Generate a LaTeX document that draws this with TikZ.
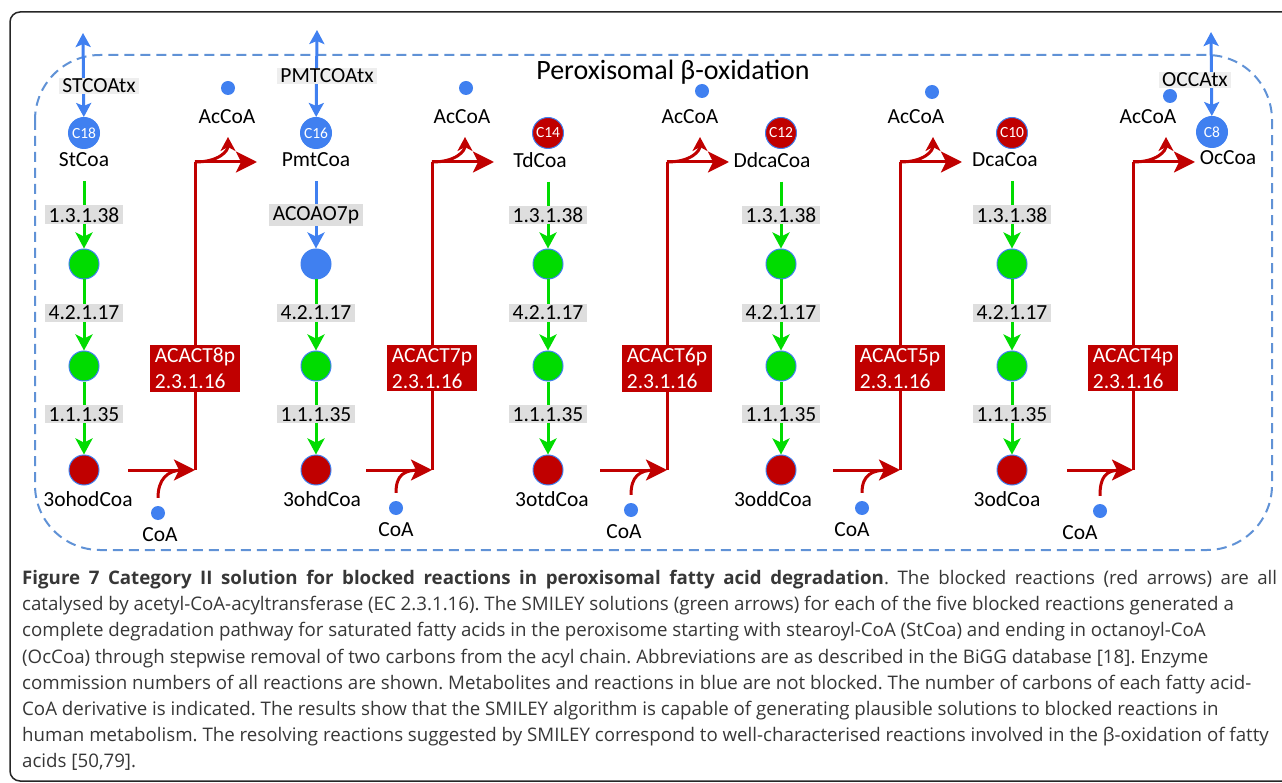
\documentclass[tikz,border=0pt]{standalone}
\usepackage{fontspec}
\setmainfont{Carlito}
\newfontfamily\capfont{Open Sans}
\usetikzlibrary{arrows.meta}
\definecolor{metblue}{RGB}{64,128,240}
\definecolor{solgreen}{RGB}{0,220,0}
\definecolor{blockred}{RGB}{192,0,0}
\definecolor{dashblue}{RGB}{96,146,214}
\definecolor{ecgray}{RGB}{222,222,222}
\definecolor{txgray}{RGB}{238,238,238}
\definecolor{captext}{RGB}{55,55,55}
\tikzset{
  lbl/.style={font=\fontsize{21.5}{24}\selectfont,inner sep=1pt,text=black},
  ec/.style={lbl,fill=ecgray,inner xsep=4pt,inner ysep=2pt},
  txlbl/.style={lbl,fill=txgray,inner xsep=3pt,inner ysep=1pt},
  blk/.style={fill=blockred,text=white,align=left,inner xsep=5pt,inner ysep=3pt,font=\fontsize{21.5}{26}\selectfont},
  metab/.style={circle,fill=#1,draw=metblue,line width=1pt,minimum size=30pt,inner sep=0pt},
  carb/.style={circle,fill=#1,draw=metblue,line width=1pt,minimum size=31pt,inner sep=0pt,text=white,font=\fontsize{15.5}{16}\selectfont},
  smalldot/.style={circle,fill=metblue,minimum size=14pt,inner sep=0pt},
  garr/.style={solgreen,line width=3pt,-{Stealth[length=16pt,width=17pt,inset=4pt]}},
  barr/.style={metblue,line width=3pt,-{Stealth[length=16pt,width=17pt,inset=4pt]}},
  tarr/.style={metblue,line width=3pt,{Stealth[length=14pt,width=15pt,inset=3pt]}-{Stealth[length=14pt,width=15pt,inset=3pt]}},
  rline/.style={blockred,line width=3pt},
  rarr/.style={rline,-{Stealth[length=21pt,width=21pt,inset=5pt]}},
  racc/.style={rline,-{Stealth[length=14pt,width=15pt,inset=4pt]}},
}
\begin{document}
\frenchspacing
\begin{tikzpicture}[x=1pt,y=-1pt]
  \useasboundingbox (0,0) rectangle (1282,783);
  \clip (0,0) rectangle (1282,783);
  \draw[line width=1.5pt,rounded corners=10pt,black!85] (10,12) rectangle (1320,781);
  \draw[dashblue,line width=2pt,dash pattern=on 10pt off 6pt,rounded corners=65pt] (35,55) rectangle (1272,550);
  \node[font=\fontsize{28}{30}\selectfont] (title) at (673,72) {Peroxisomal β-oxidation};
  % chains of the five fatty acyl-CoA
  \foreach \i/\x/\nx/\ox/\cn/\cc/\nm/\on/\ef/\st/\sl in {
    1/84/84/88/C18/metblue/StCoa/3ohodCoa/solgreen/garr/1.3.1.38,
    2/316/316/322/C16/metblue/PmtCoa/3ohdCoa/metblue/barr/ACOAO7p,
    3/548/540/552/C14/blockred/TdCoa/3otdCoa/solgreen/garr/1.3.1.38,
    4/781/772/773/C12/blockred/DdcaCoa/3oddCoa/solgreen/garr/1.3.1.38,
    5/1012/1005/1007/C10/blockred/DcaCoa/3odCoa/solgreen/garr/1.3.1.38}{
    \node[carb=\cc] (c\i) at (\x,133) {\cn};
    \node[lbl] (n\i) at (\nx,160) {\nm};
    \node[metab=\ef] (e\i) at (\x,264) {};
    \node[metab=solgreen] (h\i) at (\x,366) {};
    \node[metab=blockred] (o\i) at (\x,470) {};
    \node[lbl] (on\i) at (\ox,499) {\on};
    \draw[\st,shorten <=13pt] (e\i |- n\i.south) -- node[ec,pos=.58] {\sl} (e\i);
    \draw[garr] (e\i) -- node[ec,pos=.47] {4.2.1.17} (h\i);
    \draw[garr] (h\i) -- node[ec,pos=.45] {1.1.1.35} (o\i);
  }
  \node[carb=metblue] (c6) at (1212,132) {C8};
  \node[lbl] (n6) at (1228,158) {OcCoa};
  % blocked thiolase steps
  \foreach \i/\r/\s/\ax/\ay/\alx/\cx/\cy/\clx/\k in {
    1/195/128/228/88/227/158/513/160/8,
    2/432/366/466/88/462/396/508/396/7,
    3/667/600/702/91/690/631/510/624/6,
    4/900/833/932/92/916/862/508/852/5,
    5/1133/1067/1170/96/1148/1100/511/1080/4}{
    \coordinate (rs\i) at (\s,470);
    \coordinate (rb\i) at (\r,470);
    \coordinate (rt\i) at (\r,162);
    \coordinate (re\i) at (\r+62,162);
    \coordinate (ra\i) at (\r+33,137);
    \node[smalldot] (ac\i) at (\ax,\ay) {};
    \node[lbl] (acl\i) at (\alx,117) {AcCoA};
    \node[smalldot] (coa\i) at (\cx,\cy) {};
    \node[lbl] (coal\i) at (\clx,\cy+22) {CoA};
    \draw[rline] ([yshift=8pt]coa\i.north) .. controls +(0,-18) and +(-16,0) .. ([xshift=-12pt]rb\i);
    \draw[rarr] (rs\i) -- (rb\i);
    \draw[rarr] (rt\i) -- (re\i);
    \draw[racc] (rt\i) .. controls +(24,0) and +(0,14) .. (ra\i);
    \draw[rline] (rb\i) -- node[blk,pos=.33] {ACACT\k p\\2.3.1.16} (rt\i);
  }
  % transport
  \coordinate (tx1) at (83,33);
  \coordinate (tx2) at (317,30);
  \coordinate (tx6) at (1211,32);
  \draw[tarr] (tx1) -- (c1);
  \draw[tarr] (tx2) -- (c2);
  \draw[tarr] (tx6) -- (c6);
  \node[txlbl] (stx) at (99,86) {STCOAtx};
  \node[txlbl] (ptx) at (327,76) {PMTCOAtx};
  \node[txlbl] (otx) at (1195,80) {OCCAtx};
  % caption
  \node[anchor=north west,align=left,text=captext,font=\capfont\fontsize{18.7}{26.2}\selectfont,inner sep=0pt] (caption) at (22,570) {\hbox to 1255pt{\textbf{Figure 7 Category II solution for blocked reactions in peroxisomal fatty acid degradation}. The blocked reactions (red arrows) are all}\\
catalysed by acetyl-CoA-acyltransferase (EC 2.3.1.16). The SMILEY solutions (green arrows) for each of the five blocked reactions generated a\\
complete degradation pathway for saturated fatty acids in the peroxisome starting with stearoyl-CoA (StCoa) and ending in octanoyl-CoA\\
(OcCoa) through stepwise removal of two carbons from the acyl chain. Abbreviations are as described in the BiGG database [18]. Enzyme\\
commission numbers of all reactions are shown. Metabolites and reactions in blue are not blocked. The number of carbons of each fatty acid-\\
CoA derivative is indicated. The results show that the SMILEY algorithm is capable of generating plausible solutions to blocked reactions in\\
human metabolism. The resolving reactions suggested by SMILEY correspond to well-characterised reactions involved in the β-oxidation of fatty\\
acids [50,79].};
\end{tikzpicture}
\end{document}
